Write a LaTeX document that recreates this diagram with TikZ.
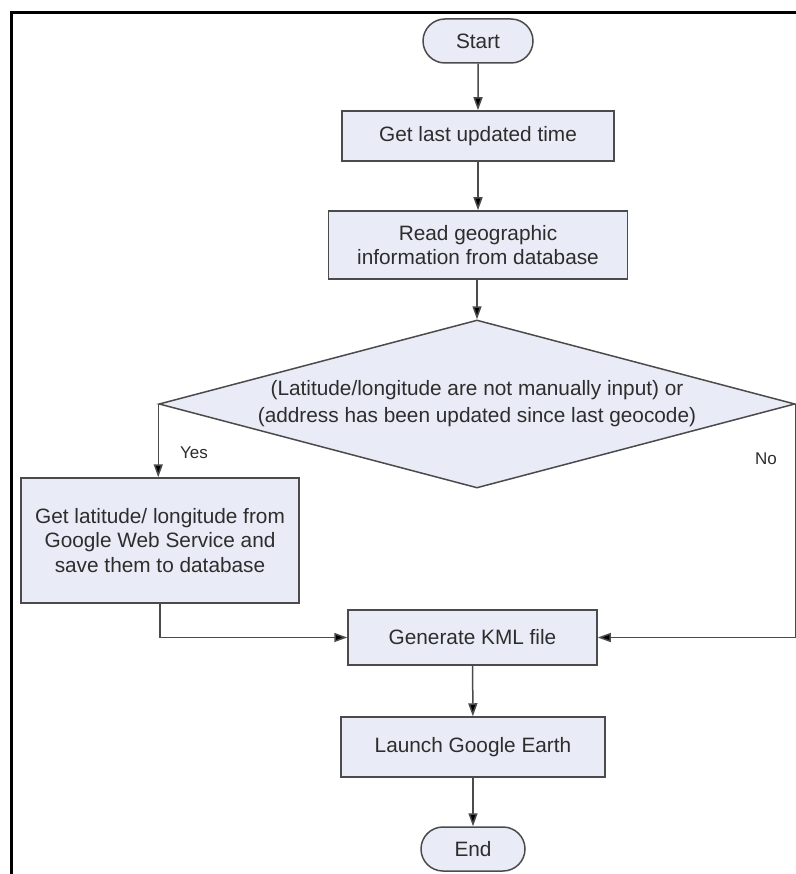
\documentclass[tikz,border=0pt]{standalone}
\usepackage{fontspec}
\setmainfont{Liberation Sans}
\usetikzlibrary{shapes.geometric,shapes.misc,arrows.meta}
\definecolor{boxfill}{RGB}{233,236,246}
\definecolor{boxline}{RGB}{75,75,75}
\definecolor{txt}{RGB}{45,45,45}
\tikzset{
  px/.style={x=1pt,y=-1pt},
  procbox/.style={rectangle,draw=boxline,fill=boxfill,line width=1.5pt,inner sep=0pt,
    text=txt,align=center,font=\fontsize{20.8}{24.5}\selectfont},
  termbox/.style={rounded rectangle,draw=boxline,fill=boxfill,line width=1.5pt,inner sep=0pt,
    text=txt,font=\fontsize{20.8}{24.5}\selectfont},
  decbox/.style={diamond,draw=boxline,fill=boxfill,line width=1.5pt,inner sep=0pt},
  conn/.style={draw=boxline,line width=1.5pt,-{Triangle[length=13pt,width=9pt,fill=black]}},
  lbl/.style={text=txt,font=\fontsize{17}{20}\selectfont,inner sep=0pt}
}
\begin{document}
\begin{tikzpicture}[px]
\useasboundingbox (0,0) rectangle (795,874);
\fill[white] (0,0) rectangle (795,874);
% frame
\draw[line width=3pt,line cap=rect] (11,874) -- (11,13) -- (796,13);

\node[termbox,minimum width=110pt,minimum height=44pt] (start) at (478,41) {Start};
\node[procbox,minimum width=272pt,minimum height=50pt] (b1) at (478,136) {Get last updated time};
\node[procbox,minimum width=299pt,minimum height=68pt] (b2) at (478,245) {Read geographic\\information from database};
\node[decbox,minimum width=636pt,minimum height=168pt] (dec) at (477,404) {};
\node[text=txt,align=center,inner sep=0pt,font=\fontsize{20.8}{27}\selectfont] (dectext) at (dec.center) {(Latitude/longitude are not manually input) or\\(address has been updated since last geocode)};
\node[procbox,minimum width=278pt,minimum height=125pt] (geo) at (160,540.5) {Get latitude/ longitude from\\Google Web Service and\\save them to database};
\node[procbox,minimum width=249pt,minimum height=55pt] (gen) at (472.5,637.5) {Generate KML file};
\node[procbox,minimum width=264pt,minimum height=60pt] (launch) at (473,747) {Launch Google Earth};
\node[termbox,minimum width=104pt,minimum height=44pt] (end) at (473,849) {End};

\node[lbl] (yes) at (194,453) {Yes};
\node[lbl] (no) at (766,459) {No};

\draw[conn] (start) -- (b1);
\draw[conn] (b1) -- (b2);
\draw[conn] (b2.south -| dec.north) -- (dec.north);
\draw[conn] (dec.west) -- (dec.west |- geo.north);
\draw[conn] (geo.south) |- (gen.west);
\draw[conn] (dec.east) |- (gen.east);
\draw[conn] (gen) -- (launch);
\draw[conn] (launch) -- (end);
\end{tikzpicture}
\end{document}
